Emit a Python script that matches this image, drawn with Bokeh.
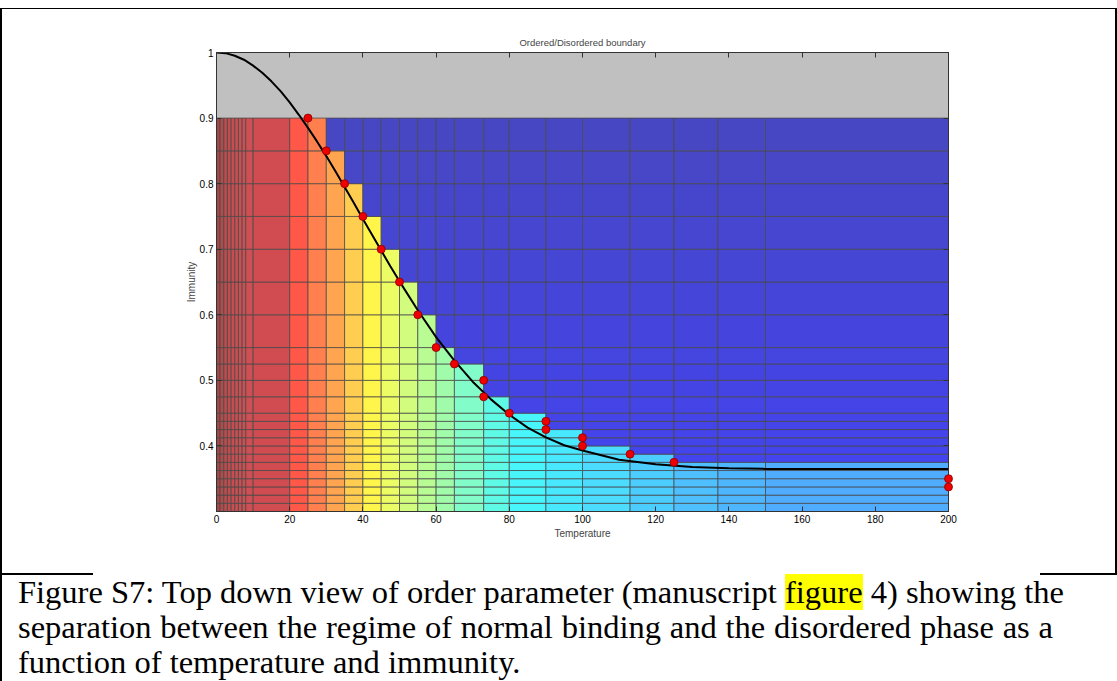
from bokeh.plotting import figure
from bokeh.models import ColumnDataSource, LinearAxis, Range1d, FixedTicker, Div, PrintfTickFormatter
from bokeh.layouts import column, row
from bokeh.embed import file_html
from bokeh.resources import INLINE

# ---- data ----
temp_edges = [0, 1, 2, 3, 4, 5, 6, 7, 8, 10, 20, 25, 30, 35, 40, 45, 50, 55, 60, 65,
              73, 80, 90, 100, 113, 125, 137, 150, 200]
imm_edges = [0.3, 0.3125, 0.325, 0.3375, 0.35, 0.3625, 0.375, 0.3875, 0.4, 0.4125,
             0.425, 0.4375, 0.45, 0.475, 0.5, 0.525, 0.55, 0.6, 0.65, 0.7, 0.75,
             0.8, 0.85, 0.9]
# top of the ordered (coloured) region for each temperature column
boundary = [0.9, 0.9, 0.9, 0.9, 0.9, 0.9, 0.9, 0.9, 0.9, 0.9, 0.9, 0.9,
            0.85, 0.8, 0.75, 0.7, 0.65, 0.6, 0.55, 0.525, 0.475, 0.45, 0.425,
            0.4, 0.3875, 0.375, 0.375, 0.375]
pt_temp = [25, 30, 35, 40, 45, 50, 55, 60, 65, 73, 73, 80, 90, 90, 100, 100, 113, 125, 200, 200]
pt_imm = [0.9, 0.85, 0.8, 0.75, 0.7, 0.65, 0.6, 0.55, 0.525, 0.5, 0.475, 0.45, 0.4375,
          0.425, 0.4125, 0.4, 0.3875, 0.375, 0.35, 0.3375]
curve_temp = [0, 2.5, 5, 7.5, 10, 12.5, 15, 17.5, 20, 22.5, 25, 27.5, 30, 32.5, 35, 37.5,
              40, 42.5, 45, 47.5, 50, 55, 60, 65, 70, 75, 80, 85, 90, 95, 100, 110, 120,
              130, 140, 150, 175, 200]
curve_imm = [1.0, 0.999, 0.995, 0.989, 0.980, 0.969, 0.956, 0.941, 0.924, 0.905, 0.885,
             0.864, 0.842, 0.819, 0.795, 0.771, 0.746, 0.722, 0.698, 0.674, 0.651,
             0.607, 0.566, 0.530, 0.498, 0.471, 0.4475, 0.428, 0.413, 0.401, 0.393,
             0.379, 0.372, 0.368, 0.366, 0.365, 0.365, 0.365]
x_ticks = [0, 20, 40, 60, 80, 100, 120, 140, 160, 180, 200]
y_ticks = [0.4, 0.5, 0.6, 0.7, 0.8, 0.9, 1.0]

# ---- styles ----
col_colors = ["#a44646", "#b44a4a", "#bc4c4d", "#c24d4f", "#c64e50", "#c84f51",
              "#cb4f52", "#cd4f53", "#ce4f54", "#d04c50", "#ff5848", "#ff804e",
              "#ffa550", "#ffcd50", "#fff54b", "#ebfc64", "#d2fc7d", "#b9fc94",
              "#a0fcaa", "#82fcc8", "#5ffae6", "#48f5fa", "#48e8ff", "#4bdcff",
              "#4bcdff", "#4ec0ff", "#4eb6ff", "#50acff"]


def blue_for(y):
    f = (0.9 - y) / (0.9 - 0.375)
    b = int(192 + f * 46)
    g = int(72 - f * 4)
    return "#%02x%02x%02x" % (g, g, b)


L, R, B, T, C = [], [], [], [], []
for i in range(len(temp_edges) - 1):
    for j in range(len(imm_edges) - 1):
        L.append(temp_edges[i]); R.append(temp_edges[i + 1])
        B.append(imm_edges[j]); T.append(imm_edges[j + 1])
        if imm_edges[j + 1] <= boundary[i] + 1e-9:
            C.append(col_colors[i])
        else:
            C.append(blue_for(imm_edges[j]))
cells = ColumnDataSource(dict(left=L, right=R, bottom=B, top=T, color=C))

FONT = "Liberation Sans"

p = figure(width=1113, height=564, x_range=Range1d(0, 200), y_range=Range1d(0.3, 1.0),
           output_backend="svg", toolbar_location=None,
           min_border_left=214, min_border_right=167, min_border_top=43, min_border_bottom=62,
           title="Ordered/Disordered boundary")
p.background_fill_color = "#c0c0c0"
p.border_fill_color = "white"
p.grid.visible = False
p.outline_line_color = "#3a3a3a"
p.title.align = "center"
p.title.text_font = FONT
p.title.text_font_size = "9.5px"
p.title.text_font_style = "normal"
p.title.standoff = 10

p.quad(left="left", right="right", bottom="bottom", top="top", fill_color="color",
       line_color="#4a4a4a", line_alpha=0.75, line_width=1, source=cells)
p.line(curve_temp, curve_imm, line_color="black", line_width=2)
dots = p.scatter(pt_temp, pt_imm, size=8, fill_color="#ee0000", line_color="#880000",
                 line_width=0.8)
dots.level = "overlay"

for ax in (p.xaxis[0], p.yaxis[0]):
    ax.major_tick_in = 5
    ax.major_tick_out = 0
    ax.minor_tick_line_color = None
    ax.axis_line_color = "#333333"
    ax.major_tick_line_color = "#333333"
    ax.major_label_text_font = FONT
    ax.major_label_text_font_size = "10px"
    ax.major_label_text_color = "black"
    ax.axis_label_text_font = FONT
    ax.axis_label_text_font_size = "10px"
    ax.axis_label_text_font_style = "normal"

p.xaxis[0].ticker = FixedTicker(ticks=x_ticks)
p.yaxis[0].ticker = FixedTicker(ticks=y_ticks)
p.yaxis[0].formatter = PrintfTickFormatter(format="%g")
p.xaxis[0].axis_label = "Temperature"
p.yaxis[0].axis_label = "Immunity"
p.xaxis[0].major_label_standoff = 3
p.xaxis[0].axis_label_standoff = 2
p.yaxis[0].major_label_standoff = 3
p.yaxis[0].axis_label_standoff = 0

top_ax = LinearAxis(ticker=FixedTicker(ticks=x_ticks), major_tick_in=5, major_tick_out=0,
                    minor_tick_line_color=None, axis_line_color="#333333",
                    major_tick_line_color="#333333",
                    major_label_text_color=None, major_label_text_font_size="1px",
                    major_label_standoff=0)
right_ax = LinearAxis(ticker=FixedTicker(ticks=y_ticks), major_tick_in=5, major_tick_out=0,
                      minor_tick_line_color=None, axis_line_color="#333333",
                      major_tick_line_color="#333333",
                      major_label_text_color=None, major_label_text_font_size="1px",
                      major_label_standoff=0)
p.add_layout(top_ax, "above")
p.add_layout(right_ax, "right")


def bar(w, h, color="black"):
    return Div(width=w, height=h, margin=0, styles={"background-color": color})


line_style = "width:1035px; text-align:justify; text-align-last:justify;"
caption_html = (
    '<div style="font-family:\'Liberation Serif\',\'Times New Roman\',serif; font-size:32.5px; '
    'line-height:35px; color:black; white-space:nowrap; padding-left:16px; padding-top:0px;">'
    '<div style="' + line_style + '">Figure S7: Top down view of order parameter (manuscript '
    '<span style="background-color:#ffff00">figure</span> 4) showing the</div>'
    '<div style="' + line_style + '">separation between the regime of normal binding and the '
    'disordered phase as a</div>'
    '<div>function of temperature and immunity.</div></div>'
)
caption = Div(text=caption_html, width=1115, height=106, margin=0)

layout = column(
    bar(1117, 8, "white"),
    bar(1117, 1),
    row(bar(2, 564), p, bar(2, 564), spacing=0),
    row(bar(93, 2), bar(947, 2, "white"), bar(77, 2), spacing=0),
    row(bar(2, 106), caption, spacing=0),
    spacing=0,
)

open("out.html", "w").write(file_html(layout, INLINE))
